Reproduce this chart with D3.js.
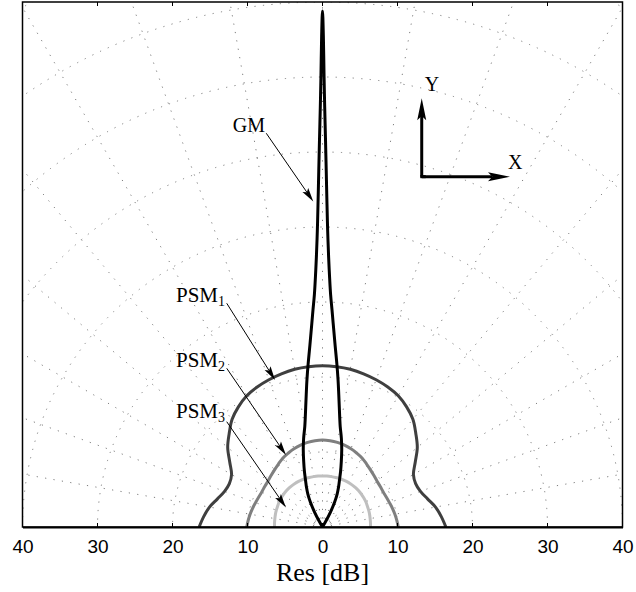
<!DOCTYPE html>
<html>
<head>
<meta charset="utf-8">
<script src="https://cdn.jsdelivr.net/npm/d3@7"></script>
<style>
  html, body { margin: 0; padding: 0; background: #fff; }
  svg { display: block; }
</style>
</head>
<body>
<svg id="chart" width="636" height="592"></svg>
<script>
// Horizontal axis ticks (dB, printed as absolute values)
const xTicks = [-40, -30, -20, -10, 0, 10, 20, 30, 40];
// Polar grid: rings (dB) and spoke angles (degrees from the +x axis)
const ringRadii = [10, 20, 30, 40, 50, 60, 70, 80];
const spokeAngles = [10, 20, 30, 40, 50, 60, 70, 80, 90, 100, 110, 120, 130, 140, 150, 160, 170];

// GM pattern: angle from the vertical (deg) and radius (dB)
const gmAngles = [-32, -30, -28, -26, -24, -22, -20, -18, -16, -14, -12, -10, -9, -8, -7, -6, -5, -4, -3, -2.5, -2, -1.6, -1.3, -1, -0.8, -0.6, -0.45, -0.3, -0.2, -0.1, 0,
                  0.1, 0.2, 0.3, 0.45, 0.6, 0.8, 1, 1.3, 1.6, 2, 2.5, 3, 4, 5, 6, 7, 8, 9, 10, 12, 14, 16, 18, 20, 22, 24, 26, 28, 30, 32];
const gmRadius = [0, 0.8, 2.3, 3.7, 4.8, 5.7, 6.6, 7.8, 9.1, 10.6, 12.1, 13.6, 14.7, 16.1, 17.8, 19.8, 21.9, 24.2, 27.2, 29, 31, 33.5, 36, 39.5, 43, 47.5, 51.5, 56, 60, 65.5, 68.8,
                  65.5, 60, 56, 51.5, 47.5, 43, 39.5, 36, 33.5, 31, 29, 27.2, 24.2, 21.9, 19.8, 17.8, 16.1, 14.7, 13.6, 12.1, 10.6, 9.1, 7.8, 6.6, 5.7, 4.8, 3.7, 2.3, 0.8, 0];

// PSM patterns, sampled every 5 degrees from -90 to 90 (angle from the vertical)
const psmAngles = [-90, -85, -80, -75, -70, -65, -60, -55, -50, -45, -40, -35, -30, -25, -20, -15, -10, -5, 0,
                   5, 10, 15, 20, 25, 30, 35, 40, 45, 50, 55, 60, 65, 70, 75, 80, 85, 90];
const psm1 = [16.45, 15.9, 15.3, 14.5, 13.9, 13.7, 14.0, 15.1, 16.5, 17.6, 18.75, 19.55, 20.2, 20.6, 20.9, 21.15, 21.35, 21.45, 21.5,
              21.45, 21.35, 21.15, 20.9, 20.6, 20.2, 19.55, 18.75, 17.6, 16.5, 15.1, 14.0, 13.7, 13.9, 14.5, 15.3, 15.9, 16.45];
const psm2 = [10.1, 9.95, 9.8, 9.65, 9.5, 9.4, 9.35, 9.4, 9.5, 9.7, 9.95, 10.25, 10.6, 10.85, 11.1, 11.3, 11.45, 11.55, 11.6,
              11.55, 11.45, 11.3, 11.1, 10.85, 10.6, 10.25, 9.95, 9.7, 9.5, 9.4, 9.35, 9.4, 9.5, 9.65, 9.8, 9.95, 10.1];
const psm3 = [6.4, 6.42, 6.45, 6.5, 6.55, 6.6, 6.68, 6.73, 6.78, 6.82, 6.85, 6.86, 6.87, 6.86, 6.85, 6.84, 6.82, 6.81, 6.8,
              6.81, 6.82, 6.84, 6.85, 6.86, 6.87, 6.86, 6.85, 6.82, 6.78, 6.73, 6.68, 6.6, 6.55, 6.5, 6.45, 6.42, 6.4];

const seriesNames = ["PSM1", "PSM2", "PSM3", "GM"];

const svg = d3.select("#chart");

const x = d3.scaleLinear().domain([-40, 40]).range([22.5, 622.5]);
const y = d3.scaleLinear().domain([0, 70]).range([527, 2]);
const rPx = d => x(d) - x(0);

// clip everything inside the plot box
svg.append("defs").append("clipPath").attr("id", "plotClip")
  .append("rect")
  .attr("x", x(-40)).attr("y", y(70))
  .attr("width", x(40) - x(-40)).attr("height", y(0) - y(70));

const plot = svg.append("g").attr("clip-path", "url(#plotClip)");

// dotted polar grid
const grid = plot.append("g")
  .attr("fill", "none")
  .attr("stroke", "#7d7d7d")
  .attr("stroke-width", 1)
  .attr("stroke-dasharray", "1.2,7.3");

grid.selectAll("circle.ring").data(ringRadii).join("circle")
  .attr("class", "ring")
  .attr("cx", x(0)).attr("cy", y(0))
  .attr("r", d => rPx(d));

grid.selectAll("line.spoke").data(spokeAngles).join("line")
  .attr("class", "spoke")
  .attr("x1", x(0)).attr("y1", y(0))
  .attr("x2", d => x(90 * Math.cos(d * Math.PI / 180)))
  .attr("y2", d => y(90 * Math.sin(d * Math.PI / 180)));

// polar line helper: angle from vertical (deg) + radius (dB)
const polarLine = d3.line()
  .x(d => x(d[1] * Math.sin(d[0] * Math.PI / 180)))
  .y(d => y(d[1] * Math.cos(d[0] * Math.PI / 180)))
  .curve(d3.curveCatmullRom.alpha(0.5));

const series = [
  { name: seriesNames[0], angles: psmAngles, radius: psm1, color: "#3f3f3f" },
  { name: seriesNames[1], angles: psmAngles, radius: psm2, color: "#7f7f7f" },
  { name: seriesNames[2], angles: psmAngles, radius: psm3, color: "#bfbfbf" },
  { name: seriesNames[3], angles: gmAngles, radius: gmRadius, color: "#000000" }
];

plot.selectAll("path.pattern").data(series).join("path")
  .attr("class", "pattern")
  .attr("fill", "none")
  .attr("stroke", d => d.color)
  .attr("stroke-width", 3)
  .attr("stroke-linejoin", "round")
  .attr("d", d => polarLine(d.angles.map((a, i) => [a, d.radius[i]])));

// plot box
svg.append("rect")
  .attr("x", x(-40)).attr("y", y(70))
  .attr("width", x(40) - x(-40)).attr("height", y(0) - y(70))
  .attr("fill", "none").attr("stroke", "#000").attr("stroke-width", 1.5);

// bottom axis
const xAxis = d3.axisBottom(x)
  .tickValues(xTicks)
  .tickFormat(d => Math.abs(d))
  .tickSize(0)
  .tickPadding(0);

const axG = svg.append("g").attr("transform", `translate(0,${y(0)})`).call(xAxis);
axG.select(".domain").attr("stroke", "#000").attr("stroke-width", 2.2);
axG.selectAll("text")
  .attr("dy", null)
  .attr("y", 26)
  .attr("fill", "#000")
  .style("font-family", "'Liberation Sans', Arial, Helvetica, sans-serif")
  .style("font-size", "19px");

// inward ticks on top and bottom edges
svg.append("g").selectAll("line").data(xTicks.slice(1, -1)).join("line")
  .attr("x1", d => x(d)).attr("x2", d => x(d))
  .attr("y1", y(0)).attr("y2", y(0) - 4)
  .attr("stroke", "#000").attr("stroke-width", 1);
svg.append("g").selectAll("line").data(xTicks.slice(1, -1)).join("line")
  .attr("x1", d => x(d)).attr("x2", d => x(d))
  .attr("y1", y(70)).attr("y2", y(70) + 4)
  .attr("stroke", "#000").attr("stroke-width", 1);

// axis title
svg.append("text")
  .attr("x", x(0)).attr("y", 581)
  .attr("text-anchor", "middle")
  .style("font-family", "'Liberation Serif', 'Times New Roman', serif")
  .style("font-size", "26px")
  .text("Res [dB]");

// arrow helper: line with a filled head
function arrow(g, x1, y1, x2, y2, len, halfW, sw) {
  const dx = x2 - x1, dy = y2 - y1, L = Math.hypot(dx, dy);
  const ux = dx / L, uy = dy / L, nx = -uy, ny = ux;
  const bx = x2 - ux * len, by = y2 - uy * len;
  const notch = len * 0.8;
  g.append("line")
    .attr("x1", x1).attr("y1", y1)
    .attr("x2", x2 - ux * notch).attr("y2", y2 - uy * notch)
    .attr("stroke", "#000").attr("stroke-width", sw);
  g.append("path")
    .attr("d", `M${x2},${y2}L${bx + nx * halfW},${by + ny * halfW}L${x2 - ux * notch},${y2 - uy * notch}L${bx - nx * halfW},${by - ny * halfW}Z`)
    .attr("fill", "#000");
}

const ann = svg.append("g");
const serif = "'Liberation Serif', 'Times New Roman', serif";

// series labels with leader arrows
const labelSpecs = [
  { name: "GM", sub: null, size: 20, lx: -7.67, ly: 52.7, ax: -7.5, ay: 52.5, tx: -1.23, ty: 43.4 },
  { name: "PSM", sub: "1", size: 21, lx: -13.0, ly: 30.04, ax: -12.77, ay: 29.83, tx: -6.33, ty: 19.6 },
  { name: "PSM", sub: "2", size: 21, lx: -13.0, ly: 21.27, ax: -12.77, ay: 21.16, tx: -4.87, ty: 9.6 },
  { name: "PSM", sub: "3", size: 21, lx: -13.0, ly: 14.47, ax: -12.77, ay: 14.04, tx: -4.87, ty: 2.6 }
];

labelSpecs.forEach(s => {
  const t = ann.append("text")
    .attr("x", x(s.lx)).attr("y", y(s.ly))
    .attr("text-anchor", "end")
    .style("font-family", serif)
    .style("font-size", s.size + "px");
  t.append("tspan").text(s.name);
  if (s.sub) {
    t.append("tspan").attr("dy", 4).style("font-size", "14px").text(s.sub);
  }
  arrow(ann, x(s.ax), y(s.ay), x(s.tx), y(s.ty), 14, 3.5, 1);
});

// coordinate frame icon
const ox = 13.23, oy = 46.71;
arrow(ann, x(ox), y(oy), x(ox), y(57.16), 22, 4.5, 3);
arrow(ann, x(ox), y(oy), x(25.0), y(oy), 22, 4.5, 3);
ann.append("line")
  .attr("x1", x(ox) - 1.5).attr("y1", y(oy))
  .attr("x2", x(ox) + 4).attr("y2", y(oy))
  .attr("stroke", "#000").attr("stroke-width", 3);
ann.append("text")
  .attr("x", x(13.63)).attr("y", y(58.17))
  .style("font-family", serif).style("font-size", "20px")
  .text("Y");
ann.append("text")
  .attr("x", x(24.73)).attr("y", y(47.73))
  .style("font-family", serif).style("font-size", "20px")
  .text("X");
</script>
</body>
</html>
